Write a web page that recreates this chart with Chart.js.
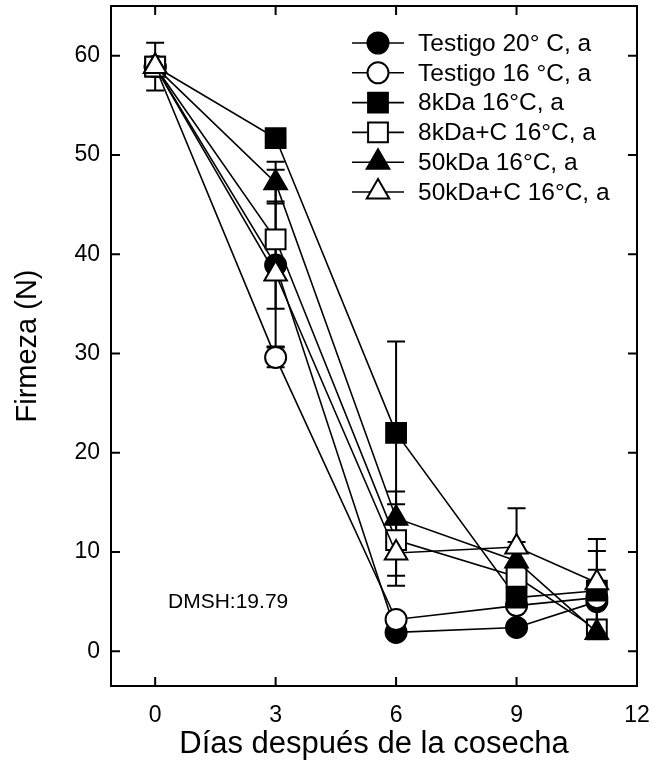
<!DOCTYPE html>
<html>
<head>
<meta charset="utf-8">
<script src="https://cdn.jsdelivr.net/npm/chart.js@4.4.1/dist/chart.umd.min.js"></script>
<style>
  html, body { margin: 0; padding: 0; background: #fff; }
  #caixa { width: 652px; height: 763px; }
</style>
</head>
<body>
<div id="caixa"><canvas id="grafico" width="652" height="763"></canvas></div>
<script>
// dias e valores de firmeza (N)
const dias = [0, 3, 6, 9, 11];
const ticksX = [0, 3, 6, 9, 12];
const ticksY = [0, 10, 20, 30, 40, 50, 60];

const nomes = [
    'Testigo 20° C, a',
    'Testigo 16 °C, a',
    '8kDa 16°C, a',
    '8kDa+C 16°C, a',
    '50kDa 16°C, a',
    '50kDa+C 16°C, a'
];

const testigo20 = [58.9, 38.9, 1.9, 2.4, 5.0];
const testigo16 = [58.9, 29.6, 3.2, 4.6, 5.4];
const kda8 = [58.9, 51.7, 22.0, 5.4, 6.1];
const kda8C = [58.9, 41.5, 11.2, 7.5, 2.2];
const kda50 = [58.9, 47.2, 13.4, 9.1, 1.9];
const kda50C = [58.9, 38.0, 9.9, 10.5, 6.9];

// barras de erro (desvio)
const errTestigo20 = [2.4, 0, 0, 0, 0];
const errTestigo16 = [0, 1.0, 0, 0, 2.8];
const errKda8 = [0, 0, 9.2, 0, 4.0];
const errKda8C = [0, 7.0, 3.6, 0, 0];
const errKda50 = [0, 2.1, 2.7, 1.9, 0];
const errKda50C = [0, 7.3, 3.3, 3.9, 4.4];

const notaDMSH = 'DMSH:19.79';

const fonte = '"Liberation Sans", Arial, sans-serif';

const series = [testigo20, testigo16, kda8, kda8C, kda50, kda50C];
const erros = [errTestigo20, errTestigo16, errKda8, errKda8C, errKda50, errKda50C];
const estilos = [
    { pointStyle: 'circle', radius: 10.5, fill: '#000' },
    { pointStyle: 'circle', radius: 10.5, fill: '#fff' },
    { pointStyle: 'rect', radius: 14, fill: '#000' },
    { pointStyle: 'rect', radius: 14, fill: '#fff' },
    { pointStyle: 'triangle', radius: 13, fill: '#000' },
    { pointStyle: 'triangle', radius: 13, fill: '#fff' }
];

const datasets = series.map(function (valores, i) {
    return {
        label: nomes[i],
        data: valores.map(function (v, j) { return { x: dias[j], y: v }; }),
        erro: erros[i],
        borderColor: '#000',
        borderWidth: 1.6,
        pointStyle: estilos[i].pointStyle,
        pointRadius: estilos[i].radius,
        pointBackgroundColor: estilos[i].fill,
        pointBorderColor: '#000',
        pointBorderWidth: 2,
        pointHoverRadius: estilos[i].radius,
        order: 5 - i,
        tension: 0
    };
});

// o chart.js reserva espaco para os rotulos nas bordas; aqui a area do grafico e fixa
function semPadding(s) {
    s.paddingTop = 0;
    s.paddingBottom = 0;
    s.paddingLeft = 0;
    s.paddingRight = 0;
}

const barrasErro = {
    id: 'barrasErro',
    beforeDatasetsDraw(chart) {
        const { ctx, scales: { x, y } } = chart;
        ctx.save();
        ctx.strokeStyle = '#000';
        ctx.lineWidth = 2;
        chart.data.datasets.forEach(function (ds) {
            ds.data.forEach(function (p, i) {
                const e = ds.erro[i];
                if (!e) {
                    return;
                }
                const px = x.getPixelForValue(p.x);
                const cima = y.getPixelForValue(p.y + e);
                const baixo = y.getPixelForValue(p.y - e);
                ctx.beginPath();
                ctx.moveTo(px, cima);
                ctx.lineTo(px, baixo);
                ctx.moveTo(px - 9, cima);
                ctx.lineTo(px + 9, cima);
                ctx.moveTo(px - 9, baixo);
                ctx.lineTo(px + 9, baixo);
                ctx.stroke();
            });
        });
        ctx.restore();
    }
};

const moldura = {
    id: 'moldura',
    beforeDatasetsDraw(chart) {
        const { ctx, chartArea: a, scales: { x, y } } = chart;
        ctx.save();
        ctx.strokeStyle = '#000';
        ctx.lineWidth = 2;
        ctx.strokeRect(a.left, a.top, a.right - a.left, a.bottom - a.top);
        ctx.beginPath();
        x.ticks.forEach(function (t) {
            const px = x.getPixelForValue(t.value);
            ctx.moveTo(px, a.bottom);
            ctx.lineTo(px, a.bottom - 9);
            ctx.moveTo(px, a.top);
            ctx.lineTo(px, a.top + 9);
        });
        y.ticks.forEach(function (t) {
            const py = y.getPixelForValue(t.value);
            ctx.moveTo(a.left, py);
            ctx.lineTo(a.left + 9, py);
            ctx.moveTo(a.right, py);
            ctx.lineTo(a.right - 9, py);
        });
        ctx.stroke();

        ctx.fillStyle = '#000';
        ctx.font = '21px ' + fonte;
        ctx.textAlign = 'left';
        ctx.textBaseline = 'middle';
        ctx.fillText(notaDMSH, x.getPixelForValue(0.32), y.getPixelForValue(4.9));
        ctx.restore();
    }
};

const legenda = {
    id: 'legenda',
    afterDraw(chart) {
        const { ctx } = chart;
        ctx.save();
        chart.data.datasets.forEach(function (ds, i) {
            const ly = 43 + i * 29.8;
            ctx.strokeStyle = '#000';
            ctx.lineWidth = 1.6;
            ctx.beginPath();
            ctx.moveTo(352, ly);
            ctx.lineTo(404, ly);
            ctx.stroke();
            ctx.fillStyle = ds.pointBackgroundColor;
            ctx.lineWidth = 2;
            Chart.helpers.drawPoint(ctx, {
                pointStyle: ds.pointStyle,
                radius: ds.pointRadius,
                borderWidth: 2,
                rotation: 0
            }, 378, ly);
            ctx.fillStyle = '#000';
            ctx.font = '24.5px ' + fonte;
            ctx.textAlign = 'left';
            ctx.textBaseline = 'middle';
            ctx.fillText(ds.label, 418, ly + 1);
        });
        ctx.restore();
    }
};

new Chart(document.getElementById('grafico'), {
    type: 'line',
    data: { datasets: datasets },
    options: {
        responsive: false,
        animation: false,
        events: [],
        layout: {
            autoPadding: false,
            padding: { left: 0, top: 6, right: 15, bottom: 0 }
        },
        plugins: {
            legend: { display: false },
            tooltip: { enabled: false }
        },
        scales: {
            x: {
                type: 'linear',
                min: -1.1,
                max: 12,
                afterBuildTicks: function (s) {
                    s.ticks = ticksX.map(function (v) { return { value: v }; });
                },
                afterFit: function (s) {
                    s.height = 77;
                    semPadding(s);
                },
                grid: { display: false, drawTicks: false },
                border: { display: false },
                ticks: {
                    color: '#000',
                    font: { size: 23, family: fonte },
                    padding: 16,
                    maxRotation: 0
                },
                title: {
                    display: true,
                    text: 'Días después de la cosecha',
                    color: '#000',
                    font: { size: 31, family: fonte },
                    padding: { top: 10, bottom: 0 }
                }
            },
            y: {
                type: 'linear',
                min: -3.5,
                max: 65,
                afterBuildTicks: function (s) {
                    s.ticks = ticksY.map(function (v) { return { value: v }; });
                },
                afterFit: function (s) {
                    s.width = 111;
                    semPadding(s);
                },
                grid: { display: false, drawTicks: false },
                border: { display: false },
                ticks: {
                    color: '#000',
                    font: { size: 23, family: fonte },
                    padding: 11
                },
                title: {
                    display: true,
                    text: 'Firmeza (N)',
                    color: '#000',
                    font: { size: 29, family: fonte },
                    padding: { top: 11, bottom: 0 }
                }
            }
        }
    },
    plugins: [moldura, barrasErro, legenda]
});
</script>
</body>
</html>
